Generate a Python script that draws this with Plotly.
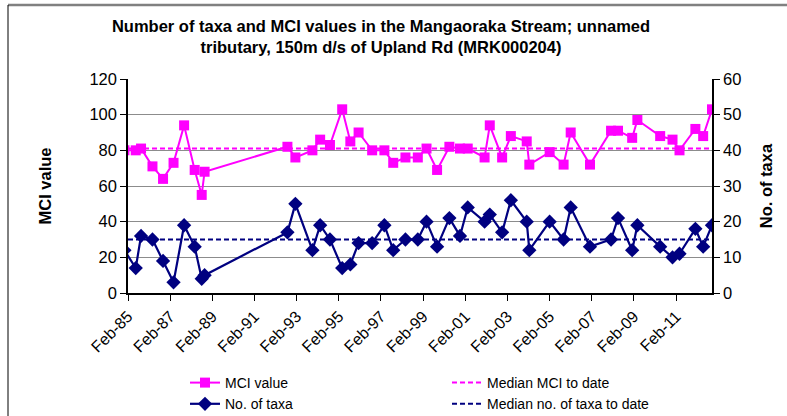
import plotly.graph_objects as go

dates = ["1984-12-01", "1985-06-15", "1985-09-15", "1986-04-01", "1986-10-01",
         "1987-04-01", "1987-10-01", "1988-04-01", "1988-08-01", "1988-09-20",
         "1992-08-25", "1993-01-10", "1993-11-01", "1994-03-15", "1994-09-01",
         "1995-04-01", "1995-08-20", "1996-01-10", "1996-09-01", "1997-04-01",
         "1997-09-01", "1998-04-01", "1998-11-01", "1999-04-01", "1999-10-01",
         "2000-05-01", "2000-11-01", "2001-03-15", "2002-01-01", "2002-04-01",
         "2002-11-01", "2003-04-01", "2004-01-01", "2004-02-15", "2005-02-01",
         "2005-10-01", "2006-02-01", "2007-01-01", "2008-01-01", "2008-05-01",
         "2009-01-01", "2009-04-01", "2010-05-01", "2010-12-01", "2011-04-01",
         "2012-01-01", "2012-05-15", "2012-10-15"]
mci = [80, 80, 81, 71, 64, 73, 94, 69, 55, 68,
       82, 76, 80, 86, 83, 103, 85, 90, 80, 80,
       73, 76, 76, 81, 69, 82, 81, 81, 76, 94,
       76, 88, 85, 72, 79, 72, 90, 72, 91, 91,
       87, 97, 88, 86, 80, 92, 88, 103]
taxa = [12, 7, 16, 15, 9, 3, 19, 13, 4, 5,
        17, 25, 12, 19, 15, 7, 8, 14, 14, 19,
        12, 15, 15, 20, 13, 21, 16, 24, 20, 22,
        17, 26, 20, 12, 20, 15, 24, 13, 15, 21,
        12, 19, 13, 10, 11, 18, 13, 19]
median_mci = 81
median_taxa = 15
x_range = ["1985-02-01", "2012-10-15"]
tick_vals = ["%d-02-01" % y for y in range(1985, 2012, 2)]
tick_text = ["Feb-%02d" % (y % 100) for y in range(1985, 2012, 2)]
title_text = ("<b>Number of taxa and MCI values in the Mangaoraka Stream; unnamed<br>"
              "tributary, 150m d/s of Upland Rd (MRK000204)</b>")

MAG = "#FF00FF"
NAVY = "#000080"
FONT = "Liberation Sans, Arial, sans-serif"
DASH = "5px,3px"

W, H = 787, 416
ML, MR, MT, MB = 128, 75, 79, 123
PW, PH = W - ML - MR, H - MT - MB


def px_x(x):
    return (x - ML) / PW


def px_y(y):
    return (H - MB - y) / PH


fig = go.Figure()
fig.add_trace(go.Scatter(x=dates, y=mci, name="MCI value", mode="lines+markers",
                         line=dict(color=MAG, width=2),
                         marker=dict(symbol="square", size=10, color=MAG)))
fig.add_trace(go.Scatter(x=x_range, y=[median_mci, median_mci], name="Median MCI to date",
                         mode="lines", line=dict(color=MAG, width=2, dash=DASH)))
fig.add_trace(go.Scatter(x=dates, y=taxa, name="No. of taxa", mode="lines+markers",
                         yaxis="y2", line=dict(color=NAVY, width=2.2),
                         marker=dict(symbol="diamond", size=11, color=NAVY)))
fig.add_trace(go.Scatter(x=x_range, y=[median_taxa, median_taxa], name="Median no. of taxa to date",
                         mode="lines", yaxis="y2",
                         line=dict(color=NAVY, width=2, dash=DASH)))

fig.update_layout(
    width=W, height=H,
    margin=dict(l=ML, r=MR, t=MT, b=MB, autoexpand=False),
    paper_bgcolor="white", plot_bgcolor="white",
    font=dict(family=FONT, size=14, color="black"),
    title=dict(text=title_text, x=381 / W, xanchor="center", xref="container",
               y=1 - 32 / H, yanchor="middle", yref="container",
               font=dict(family=FONT, size=16.5, color="black")),
    xaxis=dict(type="date", range=x_range, tickmode="array", tickvals=tick_vals,
               ticktext=tick_text, tickangle=-45, showgrid=False,
               showline=True, linecolor="black", linewidth=1.5,
               ticks="outside", ticklen=6, tickcolor="black",
               tickfont=dict(size=16), automargin=False),
    yaxis=dict(range=[0, 120], dtick=20, showgrid=True, gridcolor="#8C8C8C", gridwidth=1,
               showline=True, linecolor="black", linewidth=1.5, zeroline=False,
               ticks="outside", ticklen=6, tickcolor="black", automargin=False,
               title=dict(text="<b>MCI value</b>", font=dict(size=16.5), standoff=34),
               tickfont=dict(size=16.5)),
    yaxis2=dict(range=[0, 60], dtick=10, overlaying="y", side="right", showgrid=False,
                showline=True, linecolor="black", linewidth=1.5, zeroline=False,
                ticks="outside", ticklen=6, tickcolor="black", automargin=False,
                title=dict(text="<b>No. of taxa</b>", font=dict(size=16.5), standoff=20),
                tickfont=dict(size=16.5)),
    legend=dict(orientation="h", xref="container", yref="container",
                x=185 / W, xanchor="left", y=1 - 367 / H, yanchor="top",
                entrywidth=217, entrywidthmode="pixels", traceorder="normal",
                font=dict(size=14), bgcolor="rgba(0,0,0,0)", tracegroupgap=0),
    showlegend=True,
)
# chart frame: grey top edge, black left edge
fig.add_shape(type="line", xref="paper", yref="paper",
              x0=px_x(8), x1=px_x(787), y0=px_y(5), y1=px_y(5),
              line=dict(color="#808080", width=2.5), layer="below")
fig.add_shape(type="line", xref="paper", yref="paper",
              x0=px_x(8), x1=px_x(8), y0=px_y(5), y1=px_y(416),
              line=dict(color="black", width=1), layer="below")

fig.write_html("out.html", config={"displayModeBar": False},
               post_script="document.body.style.margin='0';")
